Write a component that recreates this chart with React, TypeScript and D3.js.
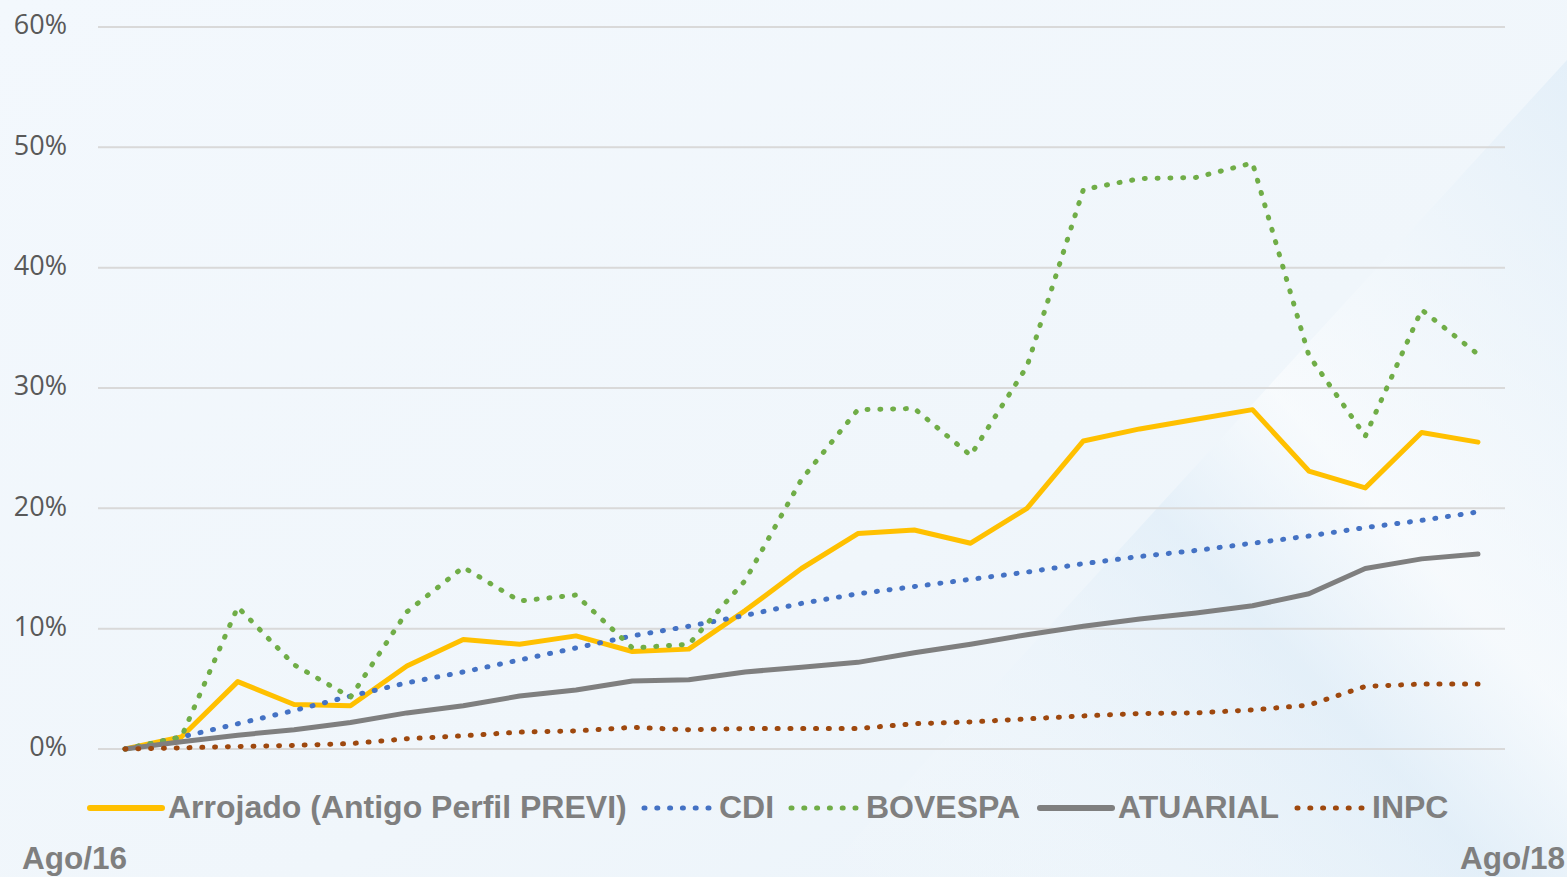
import React from "react";
import * as d3 from "d3";

const months = [
  "Ago/16","Set/16","Out/16","Nov/16","Dez/16","Jan/17","Fev/17","Mar/17","Abr/17","Mai/17","Jun/17","Jul/17",
  "Ago/17","Set/17","Out/17","Nov/17","Dez/17","Jan/18","Fev/18","Mar/18","Abr/18","Mai/18","Jun/18","Jul/18","Ago/18",
];
const arrojado = [0, 1.0, 5.6, 3.7, 3.6, 6.9, 9.1, 8.7, 9.4, 8.1, 8.3, 11.5, 15.0, 17.9, 18.2, 17.1, 20.0, 25.6, 26.6, 27.4, 28.2, 23.1, 21.7, 26.3, 25.5];
const cdi = [0, 1.0, 2.1, 3.2, 4.4, 5.5, 6.4, 7.4, 8.4, 9.4, 10.2, 11.1, 12.1, 12.9, 13.5, 14.1, 14.7, 15.4, 16.0, 16.5, 17.1, 17.7, 18.4, 19.0, 19.7];
const bovespa = [0, 1.0, 11.8, 7.0, 4.3, 11.4, 15.1, 12.3, 12.8, 8.4, 8.7, 14.0, 22.4, 28.2, 28.3, 24.4, 31.8, 46.5, 47.4, 47.5, 48.7, 32.7, 26.0, 36.5, 32.8];
const atuarial = [0, 0.6, 1.15, 1.6, 2.2, 3.0, 3.6, 4.4, 4.9, 5.65, 5.75, 6.4, 6.8, 7.2, 8.0, 8.7, 9.5, 10.2, 10.8, 11.3, 11.9, 12.9, 15.0, 15.8, 16.2];
const inpc = [0, 0.1, 0.2, 0.3, 0.45, 0.85, 1.1, 1.4, 1.5, 1.8, 1.6, 1.7, 1.7, 1.7, 2.1, 2.25, 2.5, 2.75, 2.95, 3.0, 3.25, 3.65, 5.2, 5.4, 5.4];
const yTicks = [0, 10, 20, 30, 40, 50, 60];

const seriesNames = ["Arrojado (Antigo Perfil PREVI)", "CDI", "BOVESPA", "ATUARIAL", "INPC"];
const seriesValues = [arrojado, cdi, bovespa, atuarial, inpc];
const seriesColors = ["#FFC000", "#4472C4", "#70AD47", "#7F7F7F", "#9E480E"];
const seriesDotted = [false, true, true, false, true];
const legendX = [90, 641, 788, 1040, 1294];

const W = 1567;
const H = 877;

export default function App() {
  const x = d3.scalePoint<string>().domain(months).range([125, 1478]);
  const y = d3.scaleLinear().domain([0, 60]).range([749, 27]);
  const line = d3
    .line<number>()
    .x((_, i) => x(months[i]) as number)
    .y((d) => y(d));

  return (
    <div style={{ position: "fixed", left: 0, top: 0, width: W, height: H }}>
      <svg width={W} height={H} style={{ display: "block" }}>
        <defs>
          <linearGradient id="bg" x1="0" y1="0" x2="1" y2="1">
            <stop offset="0" stopColor="#f3f8fd" />
            <stop offset="0.6" stopColor="#f0f6fb" />
            <stop offset="1" stopColor="#eaf3fa" />
          </linearGradient>
          <linearGradient id="band" x1="0" y1="1" x2="1" y2="0">
            <stop offset="0" stopColor="#ffffff" stopOpacity="0" />
            <stop offset="0.45" stopColor="#dcebf7" stopOpacity="0.55" />
            <stop offset="0.6" stopColor="#ffffff" stopOpacity="0.5" />
            <stop offset="1" stopColor="#dcebf7" stopOpacity="0.6" />
          </linearGradient>
        </defs>
        <rect x={0} y={0} width={W} height={H} fill="url(#bg)" />
        <polygon points={`820,877 1567,60 1567,877`} fill="url(#band)" />

        {yTicks.map((t) => (
          <g key={t}>
            <line x1={98} x2={1505} y1={y(t)} y2={y(t)} stroke="#d9d9d9" strokeWidth={2} />
            <text
              x={67}
              y={y(t)}
              textAnchor="end"
              dominantBaseline="middle"
              fontFamily="'Open Sans', sans-serif"
              fontSize={27}
              fill="#595959"
            >
              {`${t}%`}
            </text>
          </g>
        ))}

        {seriesValues.map((vals, k) => (
          <path
            key={seriesNames[k]}
            d={line(vals) || ""}
            fill="none"
            stroke={seriesColors[k]}
            strokeWidth={5}
            strokeLinecap="round"
            strokeLinejoin="round"
            strokeDasharray={seriesDotted[k] ? "1 11.8" : undefined}
          />
        ))}

        {seriesNames.map((name, k) => (
          <g key={name}>
            <line
              x1={legendX[k] + (seriesDotted[k] ? 3 : 0)}
              x2={legendX[k] + 72}
              y1={808}
              y2={808}
              stroke={seriesColors[k]}
              strokeWidth={seriesDotted[k] ? 5 : 6}
              strokeLinecap="round"
              strokeDasharray={seriesDotted[k] ? "1 11.8" : undefined}
            />
            <text
              x={legendX[k] + 78}
              y={818}
              fontFamily="'Liberation Sans', Arial, sans-serif"
              fontWeight="bold"
              fontSize={32}
              fill="#7f7f7f"
            >
              {name}
            </text>
          </g>
        ))}

        <text x={22} y={869} fontFamily="'Liberation Sans', Arial, sans-serif" fontWeight="bold" fontSize={31.5} fill="#7f7f7f">
          {months[0]}
        </text>
        <text x={1565} y={869} textAnchor="end" fontFamily="'Liberation Sans', Arial, sans-serif" fontWeight="bold" fontSize={31.5} fill="#7f7f7f">
          {months[months.length - 1]}
        </text>
      </svg>
    </div>
  );
}
